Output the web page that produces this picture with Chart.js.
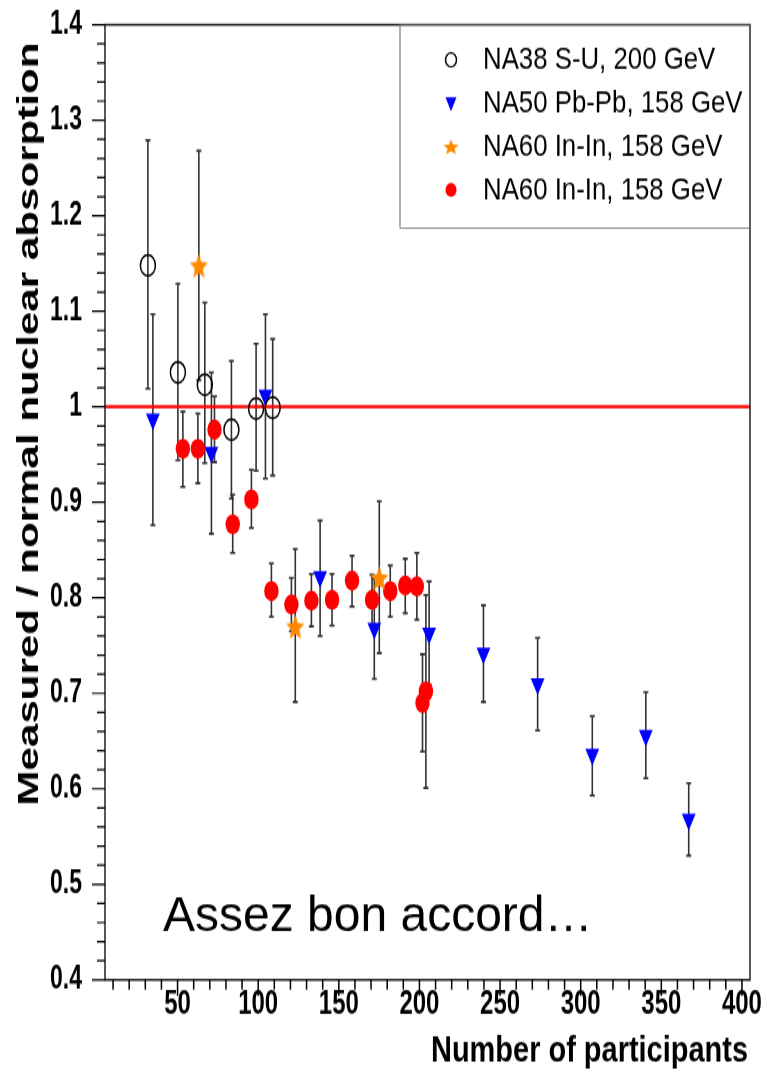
<!DOCTYPE html>
<html>
<head>
<meta charset="utf-8">
<script src="https://cdn.jsdelivr.net/npm/chart.js@4.4.1/dist/chart.umd.min.js"></script>
<style>
  html, body { margin: 0; padding: 0; background: #fff; overflow: hidden; }
  #c { display: block; }
</style>
</head>
<body>
<canvas id="c" width="767" height="767" style="width:767px;height:1077px"></canvas>
<script>
// data
const na38X  = [31.6, 50.2, 66.9, 83.4, 98.7, 109];
const na38Y  = [1.148, 1.036, 1.023, 0.976, 0.998, 0.999];
const na38Hi = [1.279, 1.129, 1.109, 1.048, 1.066, 1.071];
const na38Lo = [1.019, 0.944, 0.941, 0.904, 0.933, 0.928];

const na50X  = [34.7, 71, 104.5, 138.4, 172, 206, 239.7, 273.3, 307.2, 340.4, 367];
const na50Y  = [0.987, 0.952, 1.012, 0.822, 0.768, 0.763, 0.742, 0.710, 0.636, 0.656, 0.568];
const na50Hi = [1.097, 1.036, 1.097, 0.881, 0.820, 0.817, 0.792, 0.758, 0.676, 0.701, 0.606];
const na50Lo = [0.876, 0.867, 0.925, 0.760, 0.715, 0.709, 0.691, 0.661, 0.593, 0.611, 0.530];

const starX  = [63.2, 123, 175.1];
const starY  = [1.148, 0.770, 0.821];
const starHi = [1.268, 0.851, 0.901];
const starLo = [1.028, 0.691, 0.742];

const dotX  = [53.3, 62.6, 72.9, 84.2, 95.8, 108.2, 120.6, 133, 145.8, 158.2, 170.6, 181.9, 191.2, 198.4, 201.9, 204];
const dotY  = [0.956, 0.956, 0.976, 0.877, 0.903, 0.807, 0.793, 0.797, 0.798, 0.818, 0.798, 0.807, 0.813, 0.812, 0.690, 0.702];
const dotHi = [0.995, 0.993, 1.011, 0.908, 0.934, 0.836, 0.821, 0.825, 0.825, 0.844, 0.824, 0.834, 0.841, 0.847, 0.741, 0.803];
const dotLo = [0.916, 0.920, 0.942, 0.847, 0.873, 0.780, 0.765, 0.770, 0.771, 0.791, 0.771, 0.780, 0.784, 0.777, 0.639, 0.601];

const seriesLabels = ['NA38 S-U, 200 GeV', 'NA50 Pb-Pb, 158 GeV', 'NA60 In-In, 158 GeV', 'NA60 In-In, 158 GeV'];
const refLevel = 1;

const xMin = 5, xMax = 405, yMin = 0.4, yMax = 1.4;
const xTickValues = [50, 100, 150, 200, 250, 300, 350, 400];
const xTickLabels = ['50', '100', '150', '200', '250', '300', '350', '400'];
const yTickValues = [0.4, 0.5, 0.6, 0.7, 0.8, 0.9, 1, 1.1, 1.2, 1.3, 1.4];
const yTickLabels = ['0.4', '0.5', '0.6', '0.7', '0.8', '0.9', '1', '1.1', '1.2', '1.3', '1.4'];

const xTitle = 'Number of participants';
const yTitle = 'Measured / normal nuclear absorption';
const note = 'Assez bon accord\u2026';

// the picture is a square plot stretched to 1077 px tall
const S = 1077 / 767;
const FONT = "'Liberation Sans', Arial, Helvetica, sans-serif";
const plotLeft = 105, plotRight = 750, plotTop = 17.6, plotBottom = 697.8;

function pts(xs, ys) { return xs.map((x, i) => ({ x: x, y: ys[i] })); }

function makeStar(R, color) {
  const c = document.createElement('canvas');
  const size = Math.ceil(2 * R) + 2;
  c.width = c.height = size;
  const g = c.getContext('2d');
  g.translate(size / 2, size / 2 + R * 0.1);
  g.beginPath();
  for (let i = 0; i < 10; i++) {
    const r = i % 2 ? R * 0.45 : R;
    const a = -Math.PI / 2 + i * Math.PI / 5;
    g.lineTo(r * Math.cos(a), r * Math.sin(a));
  }
  g.closePath();
  g.fillStyle = color;
  g.fill();
  return c;
}
const starImg = makeStar(9.5, '#ff8a00');

const errorBars = {
  id: 'errorBars',
  beforeDatasetsDraw(chart) {
    const { ctx, scales: { x, y } } = chart;
    ctx.save();
    ctx.strokeStyle = '#333';
    ctx.lineWidth = 1.6;
    chart.data.datasets.forEach(ds => {
      if (!ds.errHi) return;
      ds.data.forEach((p, i) => {
        const px = x.getPixelForValue(p.x);
        const t = y.getPixelForValue(ds.errHi[i]);
        const b = y.getPixelForValue(ds.errLo[i]);
        ctx.beginPath();
        ctx.moveTo(px, t); ctx.lineTo(px, b);
        ctx.moveTo(px - 2.5, t); ctx.lineTo(px + 2.5, t);
        ctx.moveTo(px - 2.5, b); ctx.lineTo(px + 2.5, b);
        ctx.stroke();
      });
    });
    ctx.restore();
  }
};

const frameAndText = {
  id: 'frameAndText',
  afterDraw(chart) {
    const { ctx, chartArea: a, scales: { x, y } } = chart;
    ctx.save();
    // frame
    ctx.strokeStyle = '#222';
    ctx.lineWidth = 1.5;
    ctx.strokeRect(a.left, a.top, a.right - a.left, a.bottom - a.top);
    // ticks
    ctx.strokeStyle = '#000';
    ctx.lineWidth = 1.2;
    ctx.beginPath();
    for (let k = 20; k <= 70; k++) {
      const py = y.getPixelForValue(k / 50);
      const len = k % 5 === 0 ? 13 : 8;
      ctx.moveTo(a.left - len, py); ctx.lineTo(a.left, py);
    }
    ctx.stroke();
    ctx.lineWidth = 1.5;
    ctx.beginPath();
    for (let v = 10; v <= 400; v += 10) {
      const px = x.getPixelForValue(v);
      const len = v % 50 === 0 ? 11.4 : 7;
      ctx.moveTo(px, a.bottom); ctx.lineTo(px, a.bottom + len);
    }
    ctx.stroke();

    // y title (stretched with the plot)
    ctx.save();
    ctx.translate(30, 302);
    ctx.rotate(-Math.PI / 2);
    ctx.fillStyle = '#000';
    ctx.font = 'bold 30px ' + FONT;
    ctx.textAlign = 'center';
    ctx.textBaseline = 'middle';
    ctx.fillText(yTitle, 0, 0);
    ctx.restore();

    // x title, stretched like the tick labels, fitted to its width
    ctx.save();
    ctx.font = 'bold 25px ' + FONT;
    const w = ctx.measureText(xTitle).width;
    ctx.translate(748, 756.4);
    ctx.scale(317 / w, 1);
    ctx.fillStyle = '#000';
    ctx.textAlign = 'right';
    ctx.textBaseline = 'alphabetic';
    ctx.fillText(xTitle, 0, 0);
    ctx.restore();

    // the rest is drawn in picture pixels
    ctx.scale(1, 1 / S);
    ctx.fillStyle = '#000';
    ctx.font = '48px ' + FONT;
    ctx.textAlign = 'left';
    ctx.textBaseline = 'alphabetic';
    ctx.fillText(note, 163, 931);

    // legend box
    const lx = 400, ly = a.top * S, lr = a.right, lb = 228;
    ctx.strokeStyle = '#666';
    ctx.lineWidth = 1;
    ctx.strokeRect(lx, ly, lr - lx, lb - ly);
    chart.data.datasets.forEach((ds, i) => {
      if (!ds.legendLabel) return;
      const base = 69.3 + i * 43.4;
      const my = base - 9.5, mx = 451;
      ctx.save();
      if (ds.pointStyle === 'triangle') {
        ctx.fillStyle = ds.backgroundColor;
        ctx.beginPath();
        ctx.moveTo(mx - 5.5, my - 6); ctx.lineTo(mx + 5.5, my - 6); ctx.lineTo(mx, my + 8);
        ctx.closePath(); ctx.fill();
      } else if (ds.pointStyle === 'circle') {
        ctx.beginPath();
        ctx.ellipse(mx, my, 5.5, 7, 0, 0, Math.PI * 2);
        if (ds.backgroundColor === 'transparent') {
          ctx.strokeStyle = ds.borderColor; ctx.lineWidth = 1.5; ctx.stroke();
        } else {
          ctx.fillStyle = ds.backgroundColor; ctx.fill();
        }
      } else {
        ctx.drawImage(starImg, mx - 9, my - 9, 18, 18);
      }
      ctx.restore();
      ctx.save();
      ctx.translate(483, base);
      ctx.scale(1, 1.23);
      ctx.fillStyle = '#000';
      ctx.font = '25.8px ' + FONT;
      ctx.textAlign = 'left';
      ctx.fillText(ds.legendLabel, 0, 0);
      ctx.restore();
    });
    ctx.restore();
  }
};

new Chart(document.getElementById('c'), {
  type: 'scatter',
  data: {
    datasets: [
      { legendLabel: seriesLabels[0], data: pts(na38X, na38Y), errHi: na38Hi, errLo: na38Lo,
        pointStyle: 'circle', pointRadius: 7.5, backgroundColor: 'transparent', borderColor: '#000', borderWidth: 1.5, order: 1 },
      { legendLabel: seriesLabels[1], data: pts(na50X, na50Y), errHi: na50Hi, errLo: na50Lo,
        pointStyle: 'triangle', rotation: 180, pointRadius: 8, backgroundColor: '#0000ff', borderColor: '#0000ff', borderWidth: 0, order: 1 },
      { legendLabel: seriesLabels[2], data: pts(starX, starY), errHi: starHi, errLo: starLo,
        pointStyle: starImg, backgroundColor: '#ff8a00', borderColor: '#ff8a00', order: 1 },
      { legendLabel: seriesLabels[3], data: pts(dotX, dotY), errHi: dotHi, errLo: dotLo,
        pointStyle: 'circle', pointRadius: 7.2, backgroundColor: '#ff0000', borderColor: '#ff0000', borderWidth: 0, order: 1 },
      { type: 'line', data: [{ x: xMin, y: refLevel }, { x: xMax, y: refLevel }],
        borderColor: '#ff0000', borderWidth: 2.3, pointRadius: 0, order: 5 }
    ]
  },
  options: {
    responsive: false,
    animation: false,
    devicePixelRatio: 1,
    layout: { padding: { left: 0, top: plotTop, right: 767 - plotRight, bottom: 0 } },
    plugins: { legend: { display: false }, tooltip: { enabled: false } },
    scales: {
      x: {
        type: 'linear', min: xMin, max: xMax,
        afterBuildTicks: s => { s.ticks = xTickValues.map(v => ({ value: v })); },
        afterFit: s => { s.height = 767 - plotBottom; s.paddingLeft = 0; s.paddingRight = 0; },
        ticks: { callback: (v, i) => xTickLabels[i], font: { family: FONT, size: 24, weight: 'bold' },
                 color: '#000', padding: 3, maxRotation: 0, autoSkip: false },
        grid: { display: false, drawTicks: false },
        border: { display: false }
      },
      y: {
        type: 'linear', min: yMin, max: yMax,
        afterBuildTicks: s => { s.ticks = yTickValues.map(v => ({ value: v })); },
        afterFit: s => { s.width = plotLeft; s.paddingTop = 0; s.paddingBottom = 0; },
        ticks: { callback: (v, i) => yTickLabels[i], font: { family: FONT, size: 23, weight: 'bold' },
                 color: '#000', padding: 23, autoSkip: false },
        grid: { display: false, drawTicks: false },
        border: { display: false }
      }
    }
  },
  plugins: [errorBars, frameAndText]
});
</script>
</body>
</html>
